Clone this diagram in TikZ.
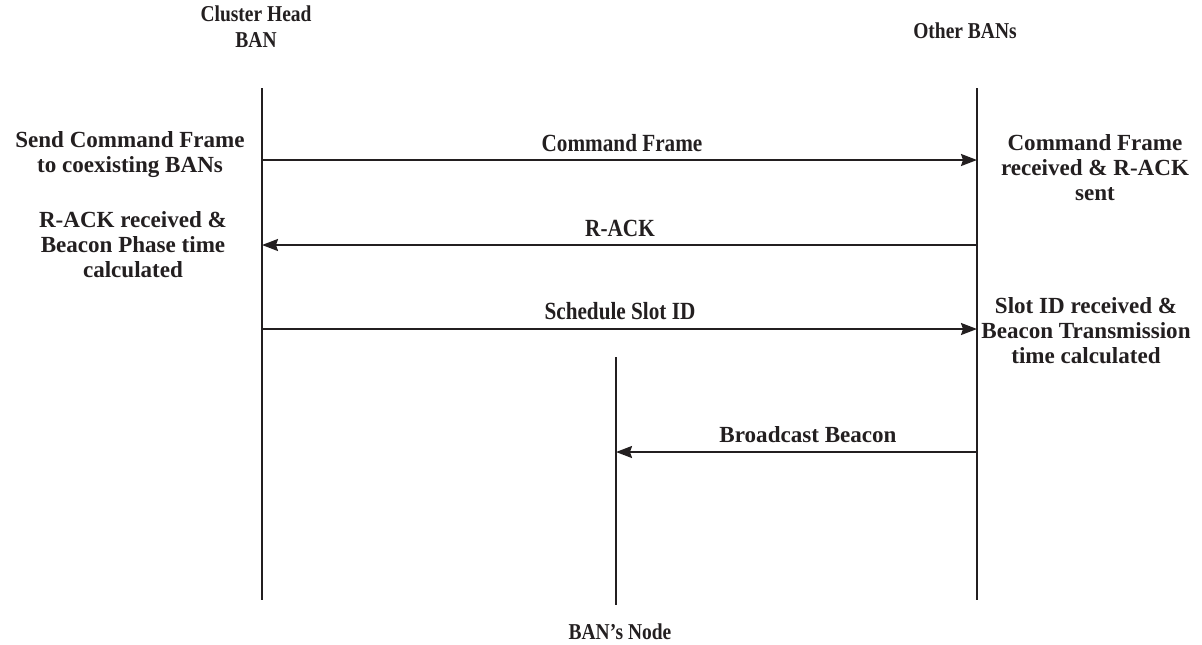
\documentclass[tikz,border=0pt]{standalone}
\usepackage{fontspec}
\setmainfont{Liberation Serif}
\newfontfamily\narrowfont[FakeStretch=0.86]{Liberation Serif}
\usetikzlibrary{arrows.meta}
\definecolor{ink}{HTML}{231F20}
\tikzset{
  lifeline/.style={draw=ink, line width=1.6pt},
  msg/.style={draw=ink, line width=1.4pt, -{Stealth[length=12pt,width=9pt,inset=1.5pt]}},
  head/.style={inner sep=0pt, align=center, text=ink,
    font=\narrowfont\bfseries\fontsize{17}{19.5}\selectfont},
  msglabel/.style={inner sep=0pt, align=center, text=ink,
    font=\narrowfont\bfseries\fontsize{18.5}{20}\selectfont},
  note/.style={inner sep=0pt, align=center, text=ink,
    font=\bfseries\fontsize{17.3}{18.75}\selectfont},
}
\begin{document}
\begin{tikzpicture}[x=0.75pt, y=-0.75pt]
\useasboundingbox (0,0) rectangle (1202,644);

% participants
\node[head] (chban) at (256,27) {Cluster Head\\BAN};
\node[head] (other) at (965,31) {Other BANs};
\node[head] (bnode) at (620,632) {BAN’s Node};

% lifelines
\coordinate (chtop) at (262,88);   \coordinate (chbot) at (262,600);
\coordinate (obtop) at (977,88);   \coordinate (obbot) at (977,600);
\coordinate (bntop) at (616,357);  \coordinate (bnbot) at (616,605);
\draw[lifeline] (chtop) -- (chbot);
\draw[lifeline] (obtop) -- (obbot);
\draw[lifeline] (bntop) -- (bnbot);

% message anchors on the lifelines
\coordinate (ch1) at (262,160); \coordinate (ob1) at (977,160);
\coordinate (ch2) at (262,245); \coordinate (ob2) at (977,245);
\coordinate (ch3) at (262,329); \coordinate (ob3) at (977,329);
\coordinate (bn4) at (616,452); \coordinate (ob4) at (977,452);

% messages
\draw[msg] (ch1) -- (ob1);
\draw[msg] (ob2) -- (ch2);
\draw[msg] (ch3) -- (ob3);
\draw[msg] (ob4) -- (bn4);

\node[msglabel] (m1) at (622,143) {Command Frame};
\node[msglabel] (m2) at (620,228) {R-ACK};
\node[msglabel] (m3) at (620,311) {Schedule Slot ID};
\node[note] (m4) at (808,435) {Broadcast Beacon};

% actions on the cluster head side
\node[note] (a1) at (130,155) {Send Command Frame\\to coexisting BANs};
\node[note] (a2) at (133,245) {R-ACK received \&\\Beacon Phase time\\calculated};

% actions on the other BANs side
\node[note] (b1) at (1095,168) {Command Frame\\received \& R-ACK\\sent};
\node[note] (b2) at (1086,331) {Slot ID received \&\\Beacon Transmission\\time calculated};
\end{tikzpicture}
\end{document}
